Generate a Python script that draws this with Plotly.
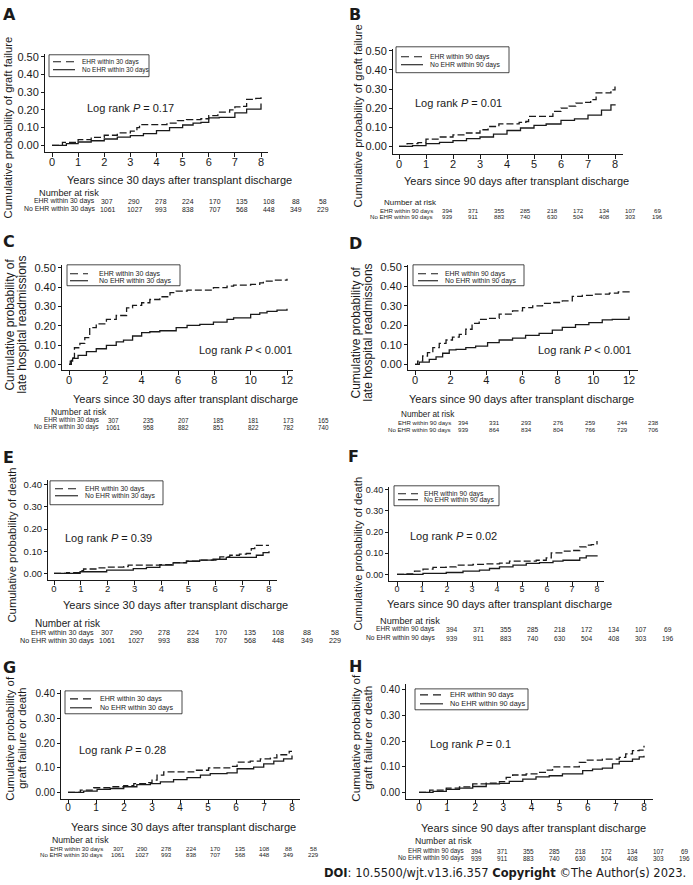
import plotly.graph_objects as go

W, H = 693, 885

# ---------------- curve data (years, cumulative probability) ----------------
# A: graft failure, 30-day cohort
A_t_ehr = [0, 0.4, 1.0, 1.5, 2.0, 2.5, 3.0, 3.25, 3.35, 4.4, 4.8, 5.15, 5.7, 6.0, 6.35, 6.8, 7.0, 7.3, 7.45, 7.8, 8.0]
A_ehr = [0, 0.017, 0.032, 0.045, 0.057, 0.07, 0.08, 0.10, 0.117, 0.126, 0.14, 0.145, 0.15, 0.168, 0.187, 0.20, 0.217, 0.22, 0.26, 0.265, 0.28]
A_t_no = [0, 0.55, 1.0, 1.5, 2.0, 2.5, 3.0, 3.5, 4.0, 4.5, 5.0, 5.4, 5.7, 6.0, 6.4, 7.0, 7.45, 8.0]
A_no = [0, 0.01, 0.019, 0.026, 0.036, 0.047, 0.055, 0.066, 0.083, 0.10, 0.115, 0.126, 0.13, 0.155, 0.158, 0.183, 0.205, 0.236]

# B: graft failure, 90-day cohort
B_t_ehr = [0, 0.3, 0.7, 1.0, 1.5, 2.0, 2.5, 3.0, 3.3, 3.7, 4.45, 4.7, 4.8, 5.7, 6.0, 6.3, 6.55, 6.85, 7.1, 7.3, 7.85, 8.0]
B_ehr = [0, 0.014, 0.02, 0.038, 0.049, 0.06, 0.07, 0.087, 0.104, 0.118, 0.125, 0.13, 0.157, 0.183, 0.20, 0.21, 0.226, 0.23, 0.244, 0.28, 0.296, 0.313]
B_t_no = [0, 0.5, 1.0, 1.5, 2.0, 2.5, 3.0, 3.5, 4.0, 4.5, 5.0, 5.45, 6.0, 6.5, 7.0, 7.5, 7.85, 8.0]
B_no = [0, 0.004, 0.014, 0.021, 0.03, 0.04, 0.049, 0.064, 0.083, 0.096, 0.11, 0.117, 0.136, 0.144, 0.163, 0.19, 0.217, 0.22]

# C: late hospital readmissions, 30-day cohort
C_t_ehr = [0, 0.13, 0.3, 0.6, 0.87, 1.14, 1.5, 2.06, 2.6, 3.17, 3.5, 4.0, 4.45, 5.0, 5.56, 5.9, 6.5, 7.95, 8.7, 9.06, 10.0, 10.5, 10.7, 11.3, 12.0]
C_ehr = [0, 0.034, 0.086, 0.109, 0.138, 0.19, 0.21, 0.233, 0.253, 0.293, 0.305, 0.319, 0.336, 0.35, 0.371, 0.379, 0.384, 0.397, 0.405, 0.41, 0.414, 0.422, 0.431, 0.436, 0.443]
C_t_no = [0, 0.07, 0.2, 0.5, 0.96, 1.5, 2.06, 2.6, 3.0, 3.5, 4.0, 4.45, 5.0, 5.9, 6.5, 7.2, 7.95, 8.7, 9.06, 10.0, 10.5, 10.9, 11.45, 12.0]
C_no = [0, 0.017, 0.031, 0.047, 0.066, 0.081, 0.098, 0.116, 0.126, 0.147, 0.164, 0.169, 0.174, 0.19, 0.202, 0.207, 0.219, 0.233, 0.241, 0.259, 0.267, 0.274, 0.281, 0.288]

# D: late hospital readmissions, 90-day cohort
D_t_ehr = [0, 0.15, 0.43, 0.7, 1.0, 1.36, 1.74, 2.1, 2.48, 2.85, 3.2, 3.6, 4.07, 4.72, 5.47, 6.03, 6.6, 7.15, 7.7, 8.26, 8.82, 9.38, 9.94, 10.9, 11.4, 12.0]
D_ehr = [0, 0.017, 0.043, 0.06, 0.086, 0.108, 0.125, 0.14, 0.154, 0.18, 0.21, 0.231, 0.236, 0.257, 0.274, 0.291, 0.30, 0.313, 0.317, 0.325, 0.348, 0.354, 0.36, 0.365, 0.372, 0.377]
D_t_no = [0, 0.24, 0.8, 1.18, 1.55, 1.92, 2.3, 2.85, 3.4, 4.07, 4.72, 5.47, 6.2, 6.96, 7.7, 8.26, 9.0, 9.75, 10.5, 11.06, 12.0]
D_no = [0, 0.012, 0.026, 0.038, 0.057, 0.074, 0.077, 0.086, 0.094, 0.111, 0.125, 0.135, 0.149, 0.159, 0.176, 0.19, 0.204, 0.214, 0.228, 0.231, 0.245]

# E: death, 30-day cohort
E_t_ehr = [0, 0.47, 0.97, 1.1, 1.6, 1.96, 2.6, 2.76, 3.94, 4.43, 4.93, 5.42, 6.02, 6.17, 6.54, 6.9, 7.16, 7.34, 7.47, 8.0]
E_ehr = [0, 0.004, 0.012, 0.02, 0.025, 0.028, 0.031, 0.037, 0.04, 0.049, 0.055, 0.06, 0.062, 0.075, 0.082, 0.087, 0.09, 0.112, 0.127, 0.127]
E_t_no = [0, 0.97, 1.96, 2.95, 3.44, 3.94, 4.43, 4.93, 5.42, 5.92, 6.41, 7.53, 7.78, 8.0]
E_no = [0, 0.0075, 0.015, 0.022, 0.027, 0.037, 0.048, 0.055, 0.06, 0.064, 0.072, 0.082, 0.094, 0.10]

# F: death, 90-day cohort
F_t_ehr = [0, 0.37, 0.7, 1.04, 1.44, 1.97, 2.37, 3.04, 3.57, 4.1, 4.5, 5.57, 5.97, 6.17, 6.64, 7.04, 7.31, 7.57, 7.77, 8.0]
F_ehr = [0, 0.003, 0.016, 0.025, 0.033, 0.036, 0.044, 0.047, 0.05, 0.053, 0.063, 0.067, 0.078, 0.102, 0.11, 0.113, 0.13, 0.138, 0.141, 0.158]
F_t_no = [0, 1.04, 1.97, 2.64, 3.3, 3.7, 4.1, 4.64, 5.17, 5.7, 6.24, 6.64, 7.31, 7.57, 8.0]
F_no = [0, 0.005, 0.009, 0.016, 0.02, 0.028, 0.036, 0.044, 0.052, 0.056, 0.063, 0.067, 0.078, 0.088, 0.091]

# G: graft failure or death, 30-day cohort
G_t_ehr = [0, 0.44, 0.92, 1.51, 1.99, 2.35, 2.82, 3.0, 3.18, 3.42, 4.49, 5.02, 5.8, 6.04, 6.51, 6.87, 7.23, 7.46, 7.9, 8.0]
G_ehr = [0, 0.009, 0.019, 0.023, 0.027, 0.036, 0.04, 0.05, 0.07, 0.083, 0.09, 0.10, 0.106, 0.123, 0.127, 0.136, 0.14, 0.153, 0.167, 0.167]
G_t_no = [0, 0.56, 1.04, 1.51, 1.99, 2.46, 2.94, 3.3, 3.77, 4.25, 4.73, 5.08, 5.68, 6.04, 6.63, 6.99, 7.35, 7.7, 8.0]
G_no = [0, 0.005, 0.012, 0.016, 0.023, 0.032, 0.036, 0.043, 0.052, 0.06, 0.07, 0.076, 0.079, 0.096, 0.103, 0.116, 0.127, 0.136, 0.15]

# H: graft failure or death, 90-day cohort
H_t_ehr = [0, 0.38, 0.97, 1.44, 1.91, 2.39, 2.86, 3.1, 3.33, 3.81, 4.22, 4.52, 4.75, 5.7, 5.93, 6.52, 7.12, 7.35, 7.59, 7.83, 8.0]
H_ehr = [0, 0.009, 0.017, 0.022, 0.033, 0.036, 0.042, 0.059, 0.068, 0.072, 0.078, 0.087, 0.10, 0.117, 0.126, 0.13, 0.137, 0.15, 0.163, 0.165, 0.182]
H_t_no = [0, 0.5, 0.97, 1.44, 1.91, 2.39, 2.86, 3.21, 3.69, 4.16, 4.63, 5.1, 5.82, 6.17, 6.52, 6.88, 7.12, 7.59, 7.83, 8.0]
H_no = [0, 0.004, 0.012, 0.017, 0.023, 0.033, 0.035, 0.043, 0.052, 0.061, 0.065, 0.072, 0.085, 0.091, 0.095, 0.111, 0.121, 0.13, 0.139, 0.143]

# ---------------- number at risk ----------------
risk30_ehr = [307, 290, 278, 224, 170, 135, 108, 88, 58]
risk30_no = [1061, 1027, 993, 838, 707, 568, 448, 349, 229]
risk90_ehr = [394, 371, 355, 285, 218, 172, 134, 107, 69]
risk90_no = [939, 911, 883, 740, 630, 504, 408, 303, 196]
riskC_ehr = [307, 235, 207, 185, 181, 173, 165]
riskC_no = [1061, 958, 882, 851, 822, 782, 740]
riskD_ehr = [394, 331, 293, 276, 259, 244, 238]
riskD_no = [939, 864, 834, 804, 766, 729, 706]

# ---------------- texts ----------------
p_text = {"A": "= 0.17", "B": "= 0.01", "C": "< 0.001", "D": "< 0.001",
          "E": "= 0.39", "F": "= 0.02", "G": "= 0.28", "H": "= 0.1"}
ytitles = {
    "A": ["Cumulative probability of graft failure"],
    "B": ["Cumulative probability of graft failure"],
    "C": ["Cumulative probability of", "late hospital readmissions"],
    "D": ["Cumulative probability of", "late hospital readmissions"],
    "E": ["Cumulative probability of death"],
    "F": ["Cumulative probability of death"],
    "G": ["Cumulative probability of", "graft failure or death"],
    "H": ["Cumulative probability of", "graft failure or death"],
}
xtitle30 = "Years since 30 days after transplant discharge"
xtitle90 = "Years since 90 days after transplant discharge"

curves = {
    "A": (A_t_ehr, A_ehr, A_t_no, A_no), "B": (B_t_ehr, B_ehr, B_t_no, B_no),
    "C": (C_t_ehr, C_ehr, C_t_no, C_no), "D": (D_t_ehr, D_ehr, D_t_no, D_no),
    "E": (E_t_ehr, E_ehr, E_t_no, E_no), "F": (F_t_ehr, F_ehr, F_t_no, F_no),
    "G": (G_t_ehr, G_ehr, G_t_no, G_no), "H": (H_t_ehr, H_ehr, H_t_no, H_no),
}
risks = {
    "A": (risk30_ehr, risk30_no), "B": (risk90_ehr, risk90_no),
    "C": (riskC_ehr, riskC_no), "D": (riskD_ehr, riskD_no),
    "E": (risk30_ehr, risk30_no), "F": (risk90_ehr, risk90_no),
    "G": (risk30_ehr, risk30_no), "H": (risk90_ehr, risk90_no),
}
days = {"A": 30, "B": 90, "C": 30, "D": 90, "E": 30, "F": 90, "G": 30, "H": 90}

# ---------------- panel geometry (pixels) ----------------
geo = {
    "A": dict(axx=(45, 268), axy=(50, 149), xt=(52, 261), xmax=8, xdt=1, yt=(142, 53), ymax=0.5, tfs=11,
              letter=(9, 11), yt_pos=[(8, 124)], ytfs=11.2, xtl=(180, 177), lr=(85, 104),
              leg=(49, 51, 149, 73), legy=(58, 66), legs=(53, 75), legt=80, lfs=6.5,
              nar=(37, 190), nfs=9.2, rows=(198, 206), lab=97, rfs=6.9, col0=107, cstep=27),
    "B": dict(axx=(393, 623), axy=(45, 151), xt=(399, 615), xmax=8, xdt=1, yt=(143, 47), ymax=0.5, tfs=11,
              letter=(355, 11), yt_pos=[(358, 113)], ytfs=11.3, xtl=(516, 178), lr=(413, 99),
              leg=(396, 43, 509, 69), legy=(53, 61), legs=(401, 423), legt=428, lfs=6.8,
              nar=(382, 199), nfs=8, rows=(207, 213), lab=435, rfs=6.1, col0=447, cstep=26.25),
    "C": dict(axx=(62, 293), axy=(262, 368), xt=(69, 287), xmax=12, xdt=2, yt=(362, 265), ymax=0.5, tfs=11,
              letter=(9, 239), yt_pos=[(10, 322), (22, 322)], ytfs=12, xtl=(185, 397), lr=(197, 348),
              leg=(67, 262, 180, 283), legy=(271, 278), legs=(70, 88), legt=97, lfs=7,
              nar=(49, 410), nfs=8.5, rows=(418, 425), lab=101, rfs=6.3, col0=113, cstep=35),
    "D": dict(axx=(408, 638), axy=(262, 368), xt=(415, 629), xmax=12, xdt=2, yt=(362, 264), ymax=0.5, tfs=11,
              letter=(355, 241), yt_pos=[(356, 330), (368, 330)], ytfs=12, xtl=(521, 397), lr=(536, 348),
              leg=(413, 262, 524, 283), legy=(271, 278), legs=(418, 438), legt=443, lfs=6.9,
              nar=(399, 412), nfs=8.2, rows=(420, 427), lab=453, rfs=6.1, col0=463, cstep=31.8),
    "E": dict(axx=(48, 277), axy=(478, 579), xt=(54, 269), xmax=8, xdt=1, yt=(572, 483), ymax=0.4, tfs=9.5,
              letter=(8, 456), yt_pos=[(12, 544)], ytfs=11.3, xtl=(175, 604), lr=(63, 536),
              leg=(50, 479, 163, 503), legy=(487, 494), legs=(55, 78), legt=83, lfs=6.8,
              nar=(33, 622), nfs=10, rows=(631, 639), lab=96, rfs=7.2, col0=107, cstep=28.5),
    "F": dict(axx=(389, 604), axy=(485, 580), xt=(397, 597), xmax=8, xdt=1, yt=(573, 488), ymax=0.4, tfs=9,
              letter=(353, 455), yt_pos=[(358, 552)], ytfs=11.2, xtl=(499, 603), lr=(408, 534),
              leg=(394, 484, 499, 504), legy=(492, 498), legs=(398, 418), legt=422, lfs=6.8,
              nar=(378, 620), nfs=9.2, rows=(628, 637), lab=437, rfs=6.7, col0=451, cstep=27.1),
    "G": dict(axx=(61, 300), axy=(689, 799), xt=(68, 292), xmax=8, xdt=1, yt=(792, 693), ymax=0.4, tfs=10,
              letter=(9, 667), yt_pos=[(10, 738), (22, 738)], ytfs=11.3, xtl=(183, 827), lr=(77, 749),
              leg=(65, 690, 182, 713), legy=(698, 707), legs=(70, 92), legt=98, lfs=7.1,
              nar=(50, 840), nfs=8.7, rows=(848, 854), lab=105, rfs=6.1, col0=118, cstep=24.4),
    "H": dict(axx=(406, 653), axy=(683, 799), xt=(419, 644), xmax=8, xdt=1, yt=(792, 689), ymax=0.4, tfs=10,
              letter=(355, 666), yt_pos=[(356, 737), (368, 737)], ytfs=11.6, xtl=(533, 828), lr=(428, 743),
              leg=(415, 688, 528, 709), legy=(694, 703), legs=(420, 443), legt=448, lfs=7.3,
              nar=(413, 841), nfs=8.7, rows=(851, 858), lab=466, rfs=6.4, col0=476, cstep=26.1),
}

INK = "#1a1a1a"
SANS = "Liberation Sans"


def px(x):
    return x / W


def py(y):
    return 1 - y / H


fig = go.Figure()
annotations = []
shapes = []


def ann(text, x, y, size, xanchor="left", yanchor="middle", family=SANS, angle=0):
    annotations.append(dict(text=text, x=px(x), y=py(y), xref="paper", yref="paper",
                            xanchor=xanchor, yanchor=yanchor, showarrow=False, textangle=angle,
                            font=dict(family=family, size=size, color=INK)))


layout_axes = {}
for i, key in enumerate("ABCDEFGH"):
    g = geo[key]
    n = "" if i == 0 else str(i + 1)
    xa, ya = "x" + n, "y" + n
    # scales
    sx = (g["xt"][1] - g["xt"][0]) / g["xmax"]
    xr = [(g["axx"][0] - g["xt"][0]) / sx, (g["axx"][1] - g["xt"][0]) / sx]
    sy = (g["yt"][0] - g["yt"][1]) / g["ymax"]
    yr = [(g["yt"][0] - g["axy"][1]) / sy, (g["yt"][0] - g["axy"][0]) / sy]
    layout_axes["xaxis" + n] = dict(
        domain=[px(g["axx"][0]), px(g["axx"][1])], range=xr, anchor=ya,
        showline=True, linecolor=INK, linewidth=1, ticks="outside", ticklen=4, tickwidth=1,
        tickcolor=INK, tick0=0, dtick=g["xdt"], showgrid=False, zeroline=False, fixedrange=True,
        ticklabelstandoff=-5,
        tickfont=dict(family=SANS, size=g["tfs"], color=INK))
    layout_axes["yaxis" + n] = dict(
        domain=[py(g["axy"][1]), py(g["axy"][0])], range=yr, anchor=xa,
        showline=True, linecolor=INK, linewidth=1, ticks="outside", ticklen=3, tickwidth=1,
        tickcolor=INK, tick0=0, dtick=0.1, tickformat=".2f", showgrid=False, zeroline=False,
        fixedrange=True, tickfont=dict(family=SANS, size=g["tfs"], color=INK))

    t_e, v_e, t_n, v_n = curves[key]
    fig.add_trace(go.Scatter(x=t_e, y=v_e, mode="lines", line=dict(color=INK, width=1.3, dash="7px,3px", shape="hv"),
                             xaxis=xa, yaxis=ya, showlegend=False, name="EHR within %d days" % days[key]))
    fig.add_trace(go.Scatter(x=t_n, y=v_n, mode="lines", line=dict(color=INK, width=1.3, shape="hv"),
                             xaxis=xa, yaxis=ya, showlegend=False, name="No EHR within %d days" % days[key]))

    # panel letter
    ann("<b>%s</b>" % key, g["letter"][0], g["letter"][1], 16, xanchor="center", family="DejaVu Sans")
    # y title
    for line, (x, y) in zip(ytitles[key], g["yt_pos"]):
        ann(line, x, y, g["ytfs"], xanchor="center", angle=-90)
    # x title
    ann(xtitle30 if days[key] == 30 else xtitle90, g["xtl"][0], g["xtl"][1], 11, xanchor="center")
    # log rank
    ann("Log rank <i>P</i> %s" % p_text[key], g["lr"][0], g["lr"][1], 11)
    # legend box
    x0, y0, x1, y1 = g["leg"]
    shapes.append(dict(type="rect", xref="paper", yref="paper", x0=px(x0), x1=px(x1), y0=py(y1), y1=py(y0),
                       line=dict(color=INK, width=0.8), fillcolor="white"))
    for yy, dash, lbl in [(g["legy"][0], "8px,5px", "EHR within %d days" % days[key]),
                          (g["legy"][1], "solid", "No EHR within %d days" % days[key])]:
        shapes.append(dict(type="line", xref="paper", yref="paper", x0=px(g["legs"][0]), x1=px(g["legs"][1]),
                           y0=py(yy), y1=py(yy), line=dict(color=INK, width=1.1, dash=dash)))
        ann(lbl, g["legt"], yy, g["lfs"])
    # number at risk table
    ann("Number at risk", g["nar"][0], g["nar"][1], g["nfs"])
    r_e, r_n = risks[key]
    for yy, lbl, vals in [(g["rows"][0], "EHR within %d days" % days[key], r_e),
                          (g["rows"][1], "No EHR within %d days" % days[key], r_n)]:
        ann(lbl, g["lab"], yy, g["rfs"], xanchor="right")
        for j, v in enumerate(vals):
            ann(str(v), g["col0"] + j * g["cstep"], yy, g["rfs"], xanchor="center")

# source line
annotations.append(dict(text="<b>DOI</b>: 10.5500/wjt.v13.i6.357 <b>Copyright</b> ©The Author(s) 2023.",
                        x=px(688), y=py(873), xref="paper", yref="paper", xanchor="right", yanchor="middle",
                        showarrow=False, font=dict(family="DejaVu Sans", size=11.5, color=INK)))

fig.update_layout(width=W, height=H, margin=dict(l=0, r=0, t=0, b=0), autosize=False,
                  paper_bgcolor="white", plot_bgcolor="white", showlegend=False,
                  annotations=annotations, shapes=shapes, **layout_axes)

fig.write_html("out.html", config={"displayModeBar": False},
               post_script="document.body.style.margin='0';")
